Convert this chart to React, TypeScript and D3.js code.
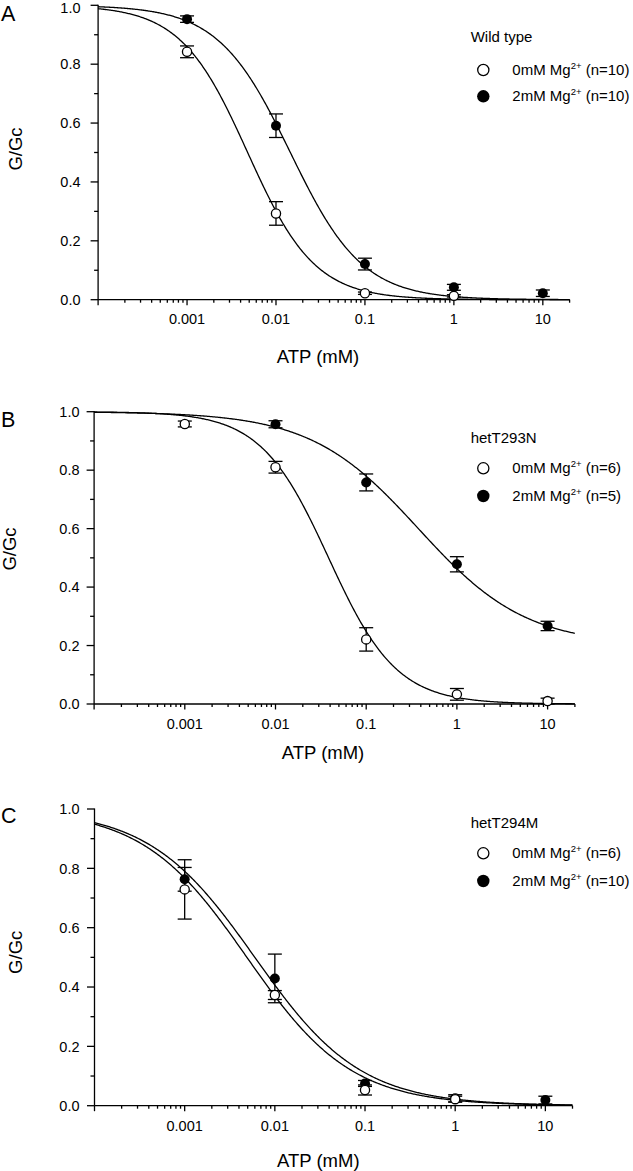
import React from "react";
import * as d3 from "d3";

// ---------- data ----------
const panelLetters = ["A", "B", "C"];
const genotypes = ["Wild type", "hetT293N", "hetT294M"];
const nOpen = [10, 6, 6];
const nFilled = [10, 5, 10];

const xTickValues = [0.001, 0.01, 0.1, 1, 10];
const xTickLabels = ["0.001", "0.01", "0.1", "1", "10"];
const yTickValues = [0, 0.2, 0.4, 0.6, 0.8, 1.0];
const yMinorValues = [0.1, 0.3, 0.5, 0.7, 0.9];
const xDomain = [0.0001, 20];

// Panel A – wild type
const wtAtp0 = [0.001, 0.01, 0.1, 1];
const wtMean0 = [0.842, 0.293, 0.022, 0.013];
const wtErr0 = [0.02, 0.04, 0.004, 0.004];
const wtAtp2 = [0.001, 0.01, 0.1, 1, 10];
const wtMean2 = [0.953, 0.591, 0.121, 0.042, 0.022];
const wtErr2 = [0.011, 0.04, 0.02, 0.01, 0.011];

// Panel B – hetT293N
const t293Atp0 = [0.001, 0.01, 0.1, 1, 10];
const t293Mean0 = [0.958, 0.81, 0.221, 0.033, 0.01];
const t293Err0 = [0.01, 0.02, 0.04, 0.02, 0.01];
const t293Atp2 = [0.01, 0.1, 1, 10];
const t293Mean2 = [0.957, 0.758, 0.478, 0.267];
const t293Err2 = [0.012, 0.029, 0.026, 0.016];

// Panel C – hetT294M
const t294Atp0 = [0.001, 0.01, 0.1, 1];
const t294Mean0 = [0.729, 0.373, 0.053, 0.022];
const t294Err0 = [0.1, 0.015, 0.017, 0.01];
const t294Atp2 = [0.001, 0.01, 0.1, 1, 10];
const t294Mean2 = [0.763, 0.429, 0.075, 0.025, 0.019];
const t294Err2 = [0.04, 0.082, 0.01, 0.012, 0.013];

// Hill fit parameters of the drawn curves (IC50 in mM, Hill coefficient, bottom)
const fitIC50_0 = [0.0048, 0.0385, 0.0049];
const fitHill_0 = [1.15, 1.16, 0.75];
const fitBottom_0 = [0, 0, 0];
const fitIC50_2 = [0.0145, 0.376, 0.006];
const fitHill_2 = [1.07, 0.73, 0.74];
const fitBottom_2 = [0, 0.2, 0];

// ---------- layout ----------
const W = 633;
const H = 1171;
const FONT = "'Liberation Sans', Arial, Helvetica, sans-serif";

const layout = [
  { left: 98.1, right: 569.6, top: 5.3, bottom: 299.7, tickLabelRight: 80.5, xLabelBase: 323.5,
    yTitleX: 22, yTitleY: 149, xTitleX: 318, xTitleY: 362.7, letterY: 20.5,
    legTitleY: 41.7, legY0: 70, legY1: 96.3 },
  { left: 94.1, right: 574.9, top: 411.7, bottom: 704, tickLabelRight: 79.5, xLabelBase: 728.5,
    yTitleX: 16, yTitleY: 549, xTitleX: 323, xTitleY: 759.3, letterY: 426.7,
    legTitleY: 442.7, legY0: 468.3, legY1: 496 },
  { left: 94.5, right: 572.5, top: 809, bottom: 1105.7, tickLabelRight: 79.5, xLabelBase: 1131,
    yTitleX: 22, yTitleY: 952.3, xTitleX: 318.3, xTitleY: 1166.7, letterY: 823,
    legTitleY: 828.3, legY0: 853.3, legY1: 881 },
];

const series0 = [
  { atp: wtAtp0, mean: wtMean0, err: wtErr0 },
  { atp: t293Atp0, mean: t293Mean0, err: t293Err0 },
  { atp: t294Atp0, mean: t294Mean0, err: t294Err0 },
];
const series2 = [
  { atp: wtAtp2, mean: wtMean2, err: wtErr2 },
  { atp: t293Atp2, mean: t293Mean2, err: t293Err2 },
  { atp: t294Atp2, mean: t294Mean2, err: t294Err2 },
];

const hill = (x: number, ic: number, h: number, b: number) =>
  b + (1 - b) / (1 + Math.pow(x / ic, h));

function Legend({ i }: { i: number }) {
  const L = layout[i];
  const cx = 483.3;
  const tx = 512.3;
  const lab = (mg: string, n: number, y: number) => (
    <text x={tx} y={y + 4.6} fontSize={15} fontFamily={FONT}>
      {mg}mM Mg
      <tspan fontSize={9.5} dy={-5.5}>2+</tspan>
      <tspan dy={5.5}> (n={n})</tspan>
    </text>
  );
  return (
    <g>
      <text x={470.7} y={L.legTitleY} fontSize={15} fontFamily={FONT}>{genotypes[i]}</text>
      <circle cx={cx} cy={L.legY0} r={5.6} fill="#fff" stroke="#000" strokeWidth={1.3} />
      {lab("0", nOpen[i], L.legY0)}
      <circle cx={cx} cy={L.legY1} r={6.2} fill="#000" />
      {lab("2", nFilled[i], L.legY1)}
    </g>
  );
}

function Panel({ i }: { i: number }) {
  const L = layout[i];
  const x = d3.scaleLog().domain(xDomain).range([L.left, L.right]);
  const y = d3.scaleLinear().domain([0, 1]).range([L.bottom, L.top]);

  const minor: number[] = [];
  for (let e = -4; e <= 1; e++) {
    for (let k = 2; k <= 9; k++) {
      const v = k * Math.pow(10, e);
      if (v <= xDomain[1] * 1.0001) minor.push(v);
    }
  }
  const majors = [0.0001, ...xTickValues];

  const logs = d3.range(Math.log10(xDomain[0]), Math.log10(xDomain[1]) + 1e-9, 0.01);

  const curve = (ic: number, h: number, b: number) =>
    d3
      .line<number>()
      .x((v) => x(Math.pow(10, v)))
      .y((v) => y(hill(Math.pow(10, v), ic, h, b)))(logs) || "";

  const fmt = d3.format(".1f");
  const sw = 1.3;

  const errBars = (s: { atp: number[]; mean: number[]; err: number[] }) =>
    s.atp.map((a, k) => {
      const cx = x(a);
      const y1 = y(s.mean[k] + s.err[k]);
      const y2 = y(s.mean[k] - s.err[k]);
      return (
        <g key={k} stroke="#000" strokeWidth={sw}>
          <line x1={cx} x2={cx} y1={y1} y2={y2} />
          <line x1={cx - 7} x2={cx + 7} y1={y1} y2={y1} />
          <line x1={cx - 7} x2={cx + 7} y1={y2} y2={y2} />
        </g>
      );
    });

  return (
    <g>
      <text x={1} y={L.letterY} fontSize={21.5} fontFamily={FONT}>{panelLetters[i]}</text>
      {/* axes */}
      <g stroke="#000" strokeWidth={sw} fill="none">
        <line x1={L.left} x2={L.left} y1={L.top - 0.6} y2={L.bottom} />
        <line x1={L.left} x2={L.right} y1={L.bottom} y2={L.bottom} />
        {yTickValues.map((v) => (
          <line key={"ym" + v} x1={L.left - 7.5} x2={L.left} y1={y(v)} y2={y(v)} />
        ))}
        {yMinorValues.map((v) => (
          <line key={"yn" + v} x1={L.left - 4} x2={L.left} y1={y(v)} y2={y(v)} />
        ))}
        {majors.map((v) => (
          <line key={"xm" + v} x1={x(v)} x2={x(v)} y1={L.bottom} y2={L.bottom + 5.5} />
        ))}
        {minor.map((v) => (
          <line key={"xn" + v} x1={x(v)} x2={x(v)} y1={L.bottom} y2={L.bottom + 3} />
        ))}
      </g>
      {yTickValues.map((v) => (
        <text
          key={"yl" + v}
          x={L.tickLabelRight}
          y={Math.max(y(v) + 5.2, 12.5)}
          fontSize={14.5}
          fontFamily={FONT}
          textAnchor="end"
        >
          {fmt(v)}
        </text>
      ))}
      {xTickValues.map((v, k) => (
        <text key={"xl" + v} x={x(v)} y={L.xLabelBase} fontSize={14.5} fontFamily={FONT} textAnchor="middle">
          {xTickLabels[k]}
        </text>
      ))}
      <text x={L.xTitleX} y={L.xTitleY} fontSize={18.5} fontFamily={FONT} textAnchor="middle">ATP (mM)</text>
      <text
        transform={`translate(${L.yTitleX},${L.yTitleY}) rotate(-90)`}
        fontSize={18.5}
        fontFamily={FONT}
        textAnchor="middle"
      >
        G/Gc
      </text>
      {/* fitted curves */}
      <path d={curve(fitIC50_0[i], fitHill_0[i], fitBottom_0[i])} fill="none" stroke="#000" strokeWidth={sw} />
      <path d={curve(fitIC50_2[i], fitHill_2[i], fitBottom_2[i])} fill="none" stroke="#000" strokeWidth={sw} />
      {/* error bars */}
      {errBars(series2[i])}
      {errBars(series0[i])}
      {/* markers: filled first, open on top */}
      {series2[i].atp.map((a, k) => (
        <circle key={"f" + k} cx={x(a)} cy={y(series2[i].mean[k])} r={5} fill="#000" />
      ))}
      {series0[i].atp.map((a, k) => (
        <circle key={"o" + k} cx={x(a)} cy={y(series0[i].mean[k])} r={4.6} fill="#fff" stroke="#000" strokeWidth={1.3} />
      ))}
      <Legend i={i} />
    </g>
  );
}

export default function App() {
  return (
    <svg
      width={W}
      height={H}
      viewBox={`0 0 ${W} ${H}`}
      style={{ position: "absolute", left: 0, top: 0, display: "block", background: "#fff" }}
    >
      <rect x={0} y={0} width={W} height={H} fill="#fff" />
      {[0, 1, 2].map((i) => (
        <Panel key={i} i={i} />
      ))}
    </svg>
  );
}
